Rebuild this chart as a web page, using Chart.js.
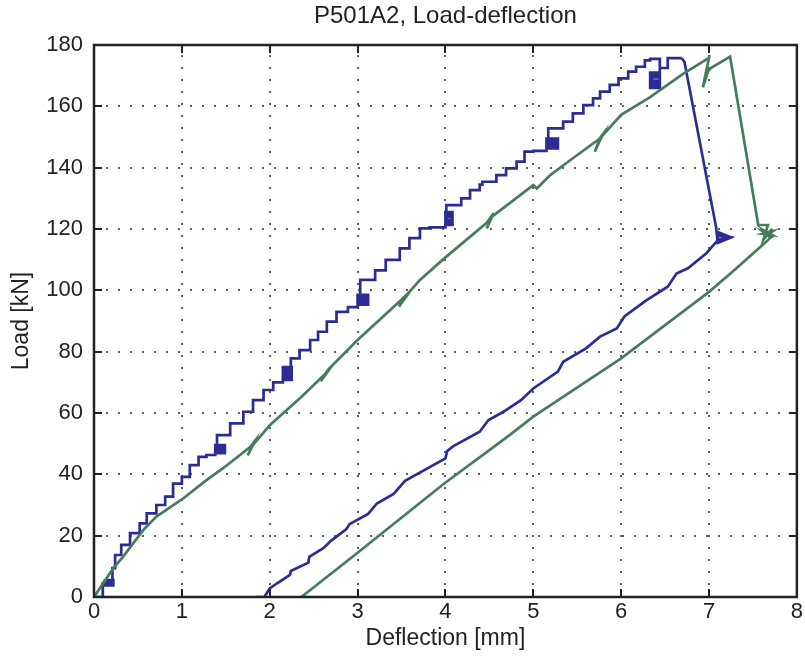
<!DOCTYPE html>
<html lang="en">
<head>
<meta charset="UTF-8" />
<title>P501A2, Load-deflection</title>
<script src="https://cdn.jsdelivr.net/npm/chart.js@4"></script>
<style>
  html, body { margin: 0; padding: 0; background: #fff; }
  canvas { display: block; }
</style>
</head>
<body>
<canvas id="loadChart" width="805" height="666"></canvas>
<script>
// blue specimen, loading in steps (corner points, drawn as a staircase; small cycles make the blobs)
const blueLoadDefl = [0, 0.10, 0.14, 0.22, 0.12, 0.22, 0.12, 0.21, 0.24, 0.31, 0.41, 0.52, 0.60, 0.71, 0.81, 0.90, 1.00, 1.09, 1.19, 1.28,
  1.38, 1.49, 1.38, 1.49, 1.39, 1.49, 1.40, 1.55, 1.70, 1.81, 1.93, 2.04,
  2.15, 2.25, 2.15, 2.25, 2.16, 2.25, 2.16, 2.24, 2.34, 2.46, 2.55, 2.65, 2.76, 2.89,
  3.00, 3.12, 3.00, 3.12, 3.01, 3.12, 3.03, 3.20, 3.32, 3.48, 3.59, 3.71, 3.82,
  4.00, 4.08, 4.00, 4.08, 4.00, 4.08, 4.01, 4.18, 4.28, 4.39, 4.42, 4.58, 4.69, 4.81, 4.90, 5.00,
  5.15, 5.28, 5.15, 5.28, 5.16, 5.28, 5.17, 5.34, 5.45, 5.57, 5.68, 5.76, 5.87, 5.97, 6.08, 6.17, 6.27,
  6.33, 6.44, 6.33, 6.44, 6.33, 6.44, 6.34, 6.44, 6.35, 6.44, 6.53, 6.61, 6.69];
const blueLoadForce = [0, 0, 4.5, 5.5, 3.8, 5.2, 4.4, 5.0, 9.4, 13.7, 17.0, 20.8, 24.0, 27.3, 30.0, 32.7, 37.0, 39.2, 43.0, 45.7,
  46.3, 49.5, 46.9, 48.8, 47.6, 48.2, 47.0, 52.8, 56.6, 60.4, 64.2, 67.5,
  70.0, 75.0, 70.8, 74.2, 71.6, 73.4, 72.4, 73.0, 77.8, 80.5, 83.8, 86.5, 89.8, 93.0,
  94.5, 98.5, 95.3, 97.7, 96.1, 97.0, 96.5, 103.4, 106.5, 109.9, 113.7, 117.0, 120.2,
  120.5, 125.5, 121.3, 124.7, 122.1, 123.9, 122.9, 127.8, 130.0, 132.7, 134.5, 135.4, 137.6, 139.8, 142.0, 145.2,
  145.5, 149.5, 146.3, 148.7, 147.1, 147.9, 147.5, 152.8, 155.0, 157.7, 160.4, 162.6, 164.8, 167.0, 169.1, 171.3, 172.9,
  175.0, 175.5, 166.0, 171.0, 166.8, 170.2, 167.6, 169.4, 168.4, 169.7, 172.5, 175.7, 175.7];

// blue specimen, failure drop and unloading
const blueUnloadDefl = [6.69, 6.72, 7.08, 7.10, 7.25, 7.10, 7.24, 7.10, 7.24, 7.10, 7.23, 7.10, 7.22, 7.10, 7.10,
  6.97, 6.76, 6.63, 6.53, 6.29, 6.04, 5.95, 5.76, 5.60,
  5.34, 5.28, 5.00, 4.86, 4.66, 4.49, 4.39, 4.09, 4.02, 4.00, 3.54, 3.41, 3.22, 3.12, 2.91, 2.87, 2.70, 2.61, 2.45, 2.44, 2.24,
  2.23, 2.08, 2.00, 1.95, 1.95, 1.85];
const blueUnloadForce = [175.7, 174.5, 120.7, 115.5, 117.2, 119.0, 117.3, 116.0, 117.4, 118.4, 117.4, 116.5, 117.3, 117.9, 116.4,
  112.1, 107.2, 105.5, 101.2, 96.8, 91.6, 87.6, 84.9, 81.1,
  76.7, 73.5, 68.0, 64.2, 60.4, 57.7, 53.9, 49.2, 47.6, 45.2, 37.9, 33.6, 30.5, 27.1, 23.8, 22.1, 18.4, 15.9, 13.1, 11.2, 8.5,
  7.2, 4.4, 2.8, 0.5, 0, 0];

// green specimen, whole test
const greenDefl = [0, 0.22, 0.33, 0.56, 0.71, 1.00, 1.28, 1.47, 1.78, 1.82, 1.75, 1.81, 2.00, 2.35, 2.66, 2.72, 2.58, 2.66, 3.00,
  3.52, 3.60, 3.47, 3.56, 3.71, 3.99, 4.47, 4.55, 4.47, 4.53, 5.00, 5.04, 5.19, 5.40, 5.75, 5.79, 5.70, 5.76, 6.00, 6.33, 6.70,
  7.00, 6.93, 6.99, 7.02, 7.24, 7.56, 7.67, 7.62, 7.72, 7.62, 7.72, 7.61, 7.72, 7.62, 7.71, 7.63, 7.72, 7.70, 7.65, 7.29, 7.00,
  6.00, 5.00, 4.73, 4.50, 3.99, 2.99, 2.36];
const greenForce = [0, 9.4, 13.1, 21.8, 26.2, 31.8, 38.1, 42.0, 49.0, 50.5, 46.2, 49.6, 56.0, 65.0, 73.5, 75.8, 70.4, 74.0, 83.8,
  97.5, 99.8, 94.7, 98.5, 103.4, 110.5, 122.0, 125.2, 120.2, 124.0, 134.3, 133.2, 137.5, 142.0, 149.3, 150.8, 145.2, 149.6, 157.2, 163.0, 170.5,
  175.8, 166.2, 171.5, 172.5, 176.2, 121.3, 121.3, 116.5, 120.0, 117.3, 119.2, 118.4, 118.0, 119.6, 117.0, 118.8, 117.6, 117.2, 115.8, 106.6, 99.5,
  77.8, 58.8, 52.8, 47.9, 37.1, 14.2, 0];

const blueColor = '#2b2d94';
const greenColor = '#467c5b';

function toPoints(xs, ys) {
  return xs.map((x, i) => ({ x: x, y: ys[i] }));
}

// dotted grid under the lines, box and inward ticks on top
const matlabFrame = {
  id: 'matlabFrame',
  beforeDatasetsDraw(chart) {
    const { ctx, chartArea: a, scales: { x, y } } = chart;
    ctx.save();
    ctx.strokeStyle = 'rgba(40,40,40,0.75)';
    ctx.lineWidth = 2;
    ctx.setLineDash([2, 10]);
    x.ticks.forEach(t => {
      const px = Math.round(x.getPixelForValue(t.value));
      ctx.beginPath(); ctx.moveTo(px, a.bottom); ctx.lineTo(px, a.top); ctx.stroke();
    });
    y.ticks.forEach(t => {
      const py = Math.round(y.getPixelForValue(t.value));
      ctx.beginPath(); ctx.moveTo(a.left, py); ctx.lineTo(a.right, py); ctx.stroke();
    });
    ctx.restore();
  },
  afterDatasetsDraw(chart) {
    const { ctx, chartArea: a, scales: { x, y } } = chart;
    const len = 8;
    ctx.save();
    ctx.strokeStyle = '#222';
    ctx.lineWidth = 2;
    ctx.beginPath();
    x.ticks.forEach(t => {
      const px = Math.round(x.getPixelForValue(t.value));
      ctx.moveTo(px, a.bottom); ctx.lineTo(px, a.bottom - len);
      ctx.moveTo(px, a.top); ctx.lineTo(px, a.top + len);
    });
    y.ticks.forEach(t => {
      const py = Math.round(y.getPixelForValue(t.value));
      ctx.moveTo(a.left, py); ctx.lineTo(a.left + len, py);
      ctx.moveTo(a.right, py); ctx.lineTo(a.right - len, py);
    });
    ctx.stroke();
    ctx.lineWidth = 2.5;
    ctx.strokeRect(a.left, a.top, a.right - a.left, a.bottom - a.top);
    ctx.restore();
  }
};

Chart.defaults.font.family = "'Liberation Sans', Arial, Helvetica, sans-serif";
Chart.defaults.color = '#222';

new Chart(document.getElementById('loadChart'), {
  type: 'line',
  data: {
    datasets: [
      {
        data: toPoints(greenDefl, greenForce),
        borderColor: greenColor,
        borderWidth: 2.7,
        pointRadius: 0,
        tension: 0,
        fill: false
      },
      {
        data: toPoints(blueLoadDefl, blueLoadForce),
        borderColor: blueColor,
        borderWidth: 2.7,
        pointRadius: 0,
        stepped: 'after',
        fill: false
      },
      {
        data: toPoints(blueUnloadDefl, blueUnloadForce),
        borderColor: blueColor,
        borderWidth: 2.7,
        pointRadius: 0,
        tension: 0,
        fill: false
      }
    ]
  },
  options: {
    responsive: false,
    animation: false,
    devicePixelRatio: 1,
    layout: { padding: { left: 0, right: 8, top: 0, bottom: 0 } },
    plugins: {
      legend: { display: false },
      tooltip: { enabled: false },
      title: {
        display: true,
        fullSize: false,
        text: 'P501A2, Load-deflection',
        font: { size: 24, weight: 'normal' },
        padding: { top: 2, bottom: 14.2 }
      }
    },
    scales: {
      x: {
        type: 'linear',
        min: 0,
        max: 8,
        grid: { display: false, drawTicks: false },
        border: { display: false },
        ticks: { stepSize: 1, padding: 2, font: { size: 22 }, maxRotation: 0 },
        title: { display: true, text: 'Deflection [mm]', font: { size: 23 }, padding: { top: 0, bottom: 14 } },
        afterFit(scale) { scale.height = 69; }
      },
      y: {
        min: 0,
        max: 180,
        grid: { display: false, drawTicks: false },
        border: { display: false },
        ticks: { stepSize: 20, padding: 11, font: { size: 22 } },
        title: { display: true, text: 'Load [kN]', font: { size: 23 }, padding: { top: 8, bottom: 0 } },
        afterFit(scale) { scale.width = 94; }
      }
    }
  },
  plugins: [matlabFrame]
});
</script>
</body>
</html>
